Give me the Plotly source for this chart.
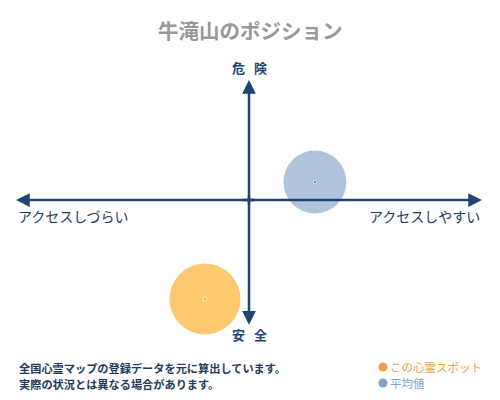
import plotly.graph_objects as go

# ポジションデータ (横: アクセス, 縦: 危険度)
names = ["この心霊スポット", "平均値"]
pos_x = [-18.9, 28.3]
pos_y = [-82.5, 15.0]
sizes = [71, 63]

fill_colors = ["#fdc970", "#afc3db"]
dot_colors = ["#f5a020", "#1f3550"]
legend_dot_colors = ["#f0a040", "#7fa3c8"]
legend_colors = ["#eea040", "#86a6c8"]

axis_labels = {"top": "危\u2002\u2009険", "bottom": "安\u2002\u2009全",
               "left": "アクセスしづらい", "right": "アクセスしやすい"}
title = "牛滝山のポジション"
notes = ["全国心霊マップの登録データを元に算出しています。",
         "実際の状況とは異なる場合があります。"]

navy = "#1d4674"
font_jp = "Noto Sans CJK JP"

fig = go.Figure()

# 円
fig.add_trace(go.Scatter(
    x=pos_x, y=pos_y, mode="markers",
    marker=dict(size=sizes, color=fill_colors, opacity=1, line=dict(width=0)),
    hoverinfo="skip", showlegend=False,
))
# 中心点
fig.add_trace(go.Scatter(
    x=pos_x, y=pos_y, mode="markers",
    marker=dict(size=[4, 3], color=dot_colors),
    hoverinfo="skip", showlegend=False,
))

# 矢印 (中心から外へ、中心で少し重ねる)
for (ex, ey, tx, ty) in [(100, 0, -3, 0), (-100, 0, 3, 0),
                         (0, 100, 0, -5), (0, -104, 0, 5)]:
    fig.add_annotation(x=ex, y=ey, ax=tx, ay=ty, xref="x", yref="y",
                       axref="x", ayref="y", text="", showarrow=True,
                       arrowhead=2, arrowsize=1.1, arrowwidth=2.5,
                       arrowcolor=navy)

lab_font = dict(family=font_jp, size=13, color=navy)
fig.add_annotation(x=0, y=110.8, text="<b>" + axis_labels["top"] + "</b>",
                   showarrow=False, font=lab_font)
fig.add_annotation(x=0, y=-111.7, text="<b>" + axis_labels["bottom"] + "</b>",
                   showarrow=False, font=lab_font)
side_font = dict(family=font_jp, size=14, color="#1f3a5a")
fig.add_annotation(x=-100, y=-13.3, text=axis_labels["left"], xanchor="left",
                   showarrow=False, font=side_font)
fig.add_annotation(x=100, y=-13.3, text=axis_labels["right"], xanchor="right",
                   showarrow=False, font=side_font)

# タイトル
fig.add_annotation(x=0.5, y=0.925, xref="paper", yref="paper",
                   yanchor="middle", text="<b>" + title + "</b>",
                   showarrow=False,
                   font=dict(family=font_jp, size=20.5, color="#999999"))

# 注記
for i, line in enumerate(notes):
    fig.add_annotation(x=0.034, y=1 - (368 + i * 16) / 400,
                       xref="paper", yref="paper",
                       xanchor="left", yanchor="middle",
                       text="<b>" + line + "</b>", showarrow=False,
                       font=dict(family=font_jp, size=11.2, color="#1f3a5a"))

# 凡例
for i, nm in enumerate(names):
    cy = 1 - (367 + i * 16) / 400
    fig.add_shape(type="circle", xref="paper", yref="paper",
                  x0=378.5 / 500, x1=387.5 / 500,
                  y0=cy - 4.5 / 400, y1=cy + 4.5 / 400,
                  fillcolor=legend_dot_colors[i], line=dict(width=0))
    fig.add_annotation(x=388 / 500, y=cy, xref="paper", yref="paper",
                       xanchor="left", yanchor="middle", text=nm,
                       showarrow=False,
                       font=dict(family=font_jp, size=11.5,
                                 color=legend_colors[i]))

fig.update_layout(
    width=500, height=400,
    margin=dict(l=0, r=0, t=0, b=0),
    paper_bgcolor="white", plot_bgcolor="white",
    xaxis=dict(range=[-106.87, 107.73], visible=False, fixedrange=True),
    yaxis=dict(range=[-166.67, 166.67], visible=False, fixedrange=True),
)

fig.write_html("out.html", config={"displayModeBar": False},
               post_script="document.body.style.margin='0';")
